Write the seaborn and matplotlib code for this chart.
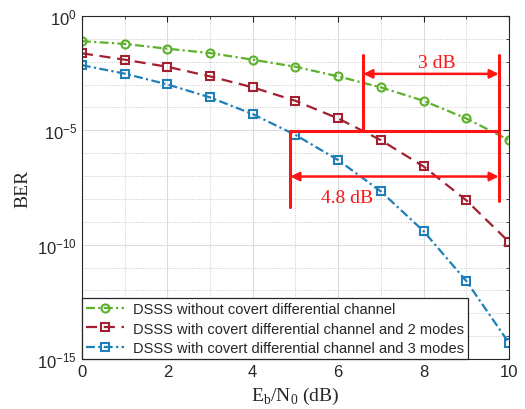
import numpy as np
import pandas as pd
import matplotlib
matplotlib.use('Agg')
import matplotlib.pyplot as plt
import matplotlib.ticker as mticker
import seaborn as sns

# Eb/N0 em dB e expoentes do BER (BER = 10^-exp)
ebn0 = [0, 1, 2, 3, 4, 5, 6, 7, 8, 9, 10]
exp_sem_canal = [1.10, 1.22, 1.43, 1.62, 1.91, 2.22, 2.64, 3.12, 3.71, 4.48, 5.43]
exp_2_modos = [1.63, 1.91, 2.22, 2.64, 3.12, 3.71, 4.48, 5.43, 6.58, 8.06, 9.88]
exp_3_modos = [2.15, 2.52, 2.99, 3.56, 4.29, 5.20, 6.30, 7.67, 9.41, 11.59, 14.30]

nomes = ['DSSS without covert differential channel',
         'DSSS with covert differential channel and 2 modes',
         'DSSS with covert differential channel and 3 modes']
cores = ['#5DB12A', '#A2202F', '#1F7FB8']

df = pd.DataFrame({
    'ebn0': ebn0 * 3,
    'ber': [10 ** -e for e in exp_sem_canal + exp_2_modos + exp_3_modos],
    'serie': [nomes[0]] * 11 + [nomes[1]] * 11 + [nomes[2]] * 11,
})

sns.set_style('white')
plt.rcParams['font.family'] = ['Liberation Sans', 'DejaVu Sans']
plt.rcParams['mathtext.fontset'] = 'custom'
plt.rcParams['mathtext.rm'] = 'Liberation Sans'
plt.rcParams['mathtext.it'] = 'Liberation Sans:italic'

fig = plt.figure(figsize=(5.25, 4.1), dpi=100)
ax = fig.add_axes([0.156, 0.122, 0.8135, 0.8365])

sns.lineplot(data=df, x='ebn0', y='ber', hue='serie', style='serie',
             palette=cores, markers=['o', 's', 's'],
             dashes=[(4, 1.5, 1, 1.5), (5, 3), (4, 1.5, 1, 1.5)],
             markersize=5.8, markerfacecolor='none', markeredgewidth=1.5,
             linewidth=1.6, ax=ax, legend=True)

# marcadores vazados com a cor da linha
for linha in ax.get_lines():
    linha.set_markeredgecolor(linha.get_color())
    linha.set_markerfacecolor('none')

ax.set_yscale('log')
ax.set_xlim(0, 10)
ax.set_ylim(1e-15, 1)
ax.xaxis.set_major_locator(mticker.MultipleLocator(2))
ax.xaxis.set_minor_locator(mticker.MultipleLocator(1))
ax.yaxis.set_major_locator(mticker.FixedLocator([1e-15, 1e-10, 1e-5, 1]))
ax.yaxis.set_minor_locator(mticker.FixedLocator([10.0 ** -k for k in range(16)]))
ax.yaxis.set_minor_formatter(mticker.NullFormatter())
ax.yaxis.set_major_formatter(mticker.LogFormatterSciNotation())

ax.grid(which='major', color='#DCDCDC', linestyle='-', linewidth=0.8)
ax.grid(which='minor', color='#C8C8C8', linestyle=(0, (1, 1.5)), linewidth=0.7)
ax.set_axisbelow(True)
ax.tick_params(which='both', direction='in', top=True, right=True, labelsize=12,
               color='#262626', labelcolor='#262626')
ax.tick_params(which='major', length=4)
ax.tick_params(which='minor', length=2.5)
for s in ax.spines.values():
    s.set_color('#262626')
    s.set_linewidth(0.8)

ax.set_xlabel(r'E$_\mathregular{b}$/N$_\mathregular{0}$ (dB)', family='Liberation Serif', fontsize=14)
ax.set_ylabel('BER', family='Liberation Serif', fontsize=14)

# anotações de ganho em vermelho
vermelho = '#FF1414'
ax.plot([6.59, 6.59], [10 ** -5.02, 10 ** -1.69], color=vermelho, lw=2.2)
ax.plot([9.76, 9.76], [10 ** -1.69, 10 ** -8.1], color=vermelho, lw=2.2)
ax.plot([4.88, 9.76], [10 ** -5.02, 10 ** -5.02], color=vermelho, lw=2.2)
ax.plot([4.88, 4.88], [10 ** -5.02, 10 ** -8.37], color=vermelho, lw=2.2)
ax.annotate('', xy=(9.76, 10 ** -2.53), xytext=(6.59, 10 ** -2.53),
            arrowprops=dict(arrowstyle='<|-|>', color=vermelho, lw=1.8, mutation_scale=13, shrinkA=0, shrinkB=0))
ax.annotate('', xy=(9.76, 10 ** -7.02), xytext=(4.88, 10 ** -7.02),
            arrowprops=dict(arrowstyle='<|-|>', color=vermelho, lw=1.8, mutation_scale=13, shrinkA=0, shrinkB=0))
ax.text(8.3, 10 ** -2.03, '3 dB', color=vermelho, family='Liberation Serif', fontsize=14,
        ha='center', va='center')
ax.text(6.2, 10 ** -7.95, '4.8 dB', color=vermelho, family='Liberation Serif', fontsize=14,
        ha='center', va='center')

leg = ax.legend(loc='lower left', fontsize=10.5, frameon=True, fancybox=False,
                borderaxespad=0, edgecolor='#262626', framealpha=1,
                handlelength=2.6, labelspacing=0.35, borderpad=0.3, handletextpad=0.6)
leg.get_frame().set_linewidth(0.9)
for h in leg.get_lines():
    h.set_markerfacecolor('none')
    h.set_markeredgecolor(h.get_color())

fig.savefig('out.png', dpi=100)
